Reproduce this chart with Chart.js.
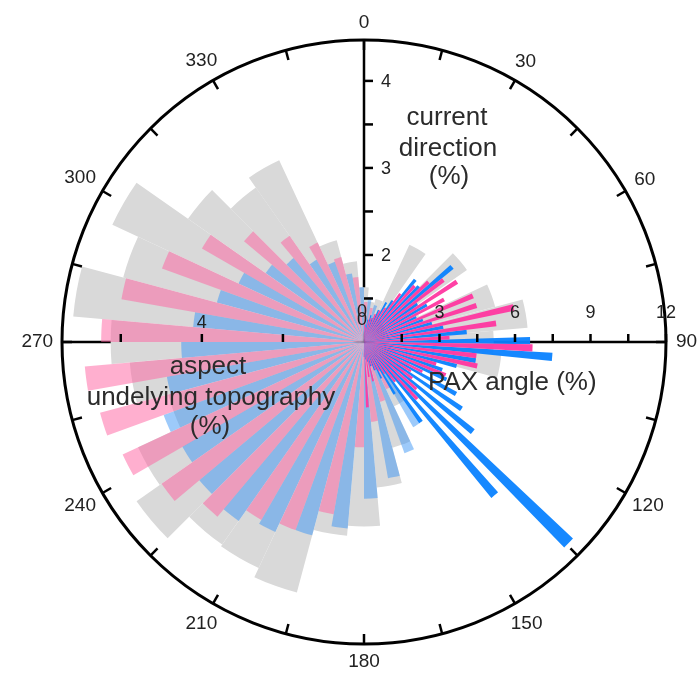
<!DOCTYPE html>
<html>
<head>
<meta charset="utf-8">
<script src="https://cdn.jsdelivr.net/npm/chart.js@4.4.1/dist/chart.umd.min.js"></script>
<style>
  html, body { margin: 0; padding: 0; background: #fff; }
  #wrap { width: 700px; height: 678px; }
</style>
</head>
<body>
<div id="wrap"><canvas id="roseChart"></canvas></div>
<script>
// compass labels round the rim
const angleLabels = ['0', '30', '60', '90', '120', '150', '180', '210', '240', '270', '300', '330'];

// aspect of underlying topography (%), 10 degree bins centred on 0, 10, ... 350
const aspectValues = [1.35, 1.0, 1.1, 2.65, 1.2, 3.1, 1.5, 3.35, 4.05, 3.2, 3.4, 1.85,
  1.25, 1.1, 1.25, 1.75, 2.7, 3.6, 4.55, 4.8, 6.4, 6.15, 6.1, 6.85,
  6.15, 5.0, 5.8, 6.25, 7.2, 6.15, 6.85, 5.3, 4.65, 4.95, 2.6, 2.0];

// current direction (%), pink bins start at 0, 10, 20 ... (5 deg wide)
const currentPinkValues = [1.46, 1.40, 1.34, 1.32, 1.29, 1.29, 1.25, 1.25, 1.25, 1.29, 1.32, 1.34,
  1.37, 1.41, 1.52, 1.60, 1.71, 1.92, 2.21, 3.01, 3.30, 3.36, 3.62, 3.84,
  4.06, 4.14, 4.22, 4.02, 3.83, 3.47, 3.15, 2.80, 2.49, 2.26, 2.01, 1.75];
// blue bins start at 5, 15, 25 ...
const currentBlueValues = [1.52, 1.44, 1.37, 1.32, 1.29, 1.28, 1.28, 1.28, 1.30, 1.34, 1.39, 1.46,
  1.57, 1.80, 2.13, 2.36, 2.59, 2.80, 3.15, 3.30, 3.41, 3.51, 3.47, 3.41,
  3.45, 3.30, 3.10, 2.97, 2.75, 2.59, 2.38, 2.26, 2.09, 1.98, 1.80, 1.63];

// PAX angle (%), 0-180 only, pink centred on 2, 7, 12 ... blue on 4.5, 9.5 ...
const paxPinkValues = [0.8, 0.6, 0.9, 1.0, 1.2, 1.4, 1.6, 2.4, 3.0, 3.5, 4.0, 4.4,
  3.6, 4.7, 4.7, 6.1, 5.3, 3.4, 6.7, 4.5, 4.6, 3.0, 3.5, 2.6,
  2.2, 2.4, 2.8, 3.1, 2.0, 1.5, 1.3, 1.2, 1.0, 1.6, 1.4, 2.6];
const paxBlueValues = [0.7, 0.9, 1.1, 1.0, 1.4, 1.8, 2.0, 3.2, 3.1, 4.6, 2.6, 2.9,
  2.3, 2.5, 2.8, 3.2, 4.1, 6.6, 7.5, 4.5, 3.8, 3.3, 3.6, 4.2,
  4.7, 5.6, 11.4, 8.0, 3.9, 2.4, 1.6, 1.2, 1.0, 0.8, 0.7, 0.6];

// axis ranges
const aspectMax = 7.45;
const currentMin = 1;
const currentMax = 4.47;
const paxMax = 12;
const aspectLabelled = [4];

const FONT = '"Liberation Sans", Arial, sans-serif';

// turn a list of bin values into polar area slices (bars + empty gaps)
function binSeries(values, firstStart, width, step, emptyValue) {
  const data = [];
  const angles = [];
  let pos = 0;
  values.forEach((v, i) => {
    const start = firstStart + i * step;
    if (start - pos > 0.001) {
      data.push(emptyValue);
      angles.push(start - pos);
    }
    data.push(v);
    angles.push(width);
    pos = start + width;
  });
  if (360 - pos > 0.001) {
    data.push(emptyValue);
    angles.push(360 - pos);
  }
  return { data, angles };
}

// aspect bins are centred on the tick, so split the 0 bin round north
const aspectSeries = {
  data: [aspectValues[0], ...aspectValues.slice(1), aspectValues[0]],
  angles: [5, ...aspectValues.slice(1).map(() => 10), 5]
};
const curPink = binSeries(currentPinkValues, 0, 5, 10, currentMin);
const curBlue = binSeries(currentBlueValues, 5, 5, 10, currentMin);
const paxPink = binSeries(paxPinkValues, 0.75, 2.5, 5, 0);
const paxBlue = binSeries(paxBlueValues, 3.25, 2.5, 5, 0);

function makeDataset(label, series, axisId, color, order) {
  return {
    label: label,
    data: series.data,
    rAxisID: axisId,
    backgroundColor: color,
    borderWidth: 0,
    order: order,
    angle: ctx => series.angles[ctx.dataIndex]
  };
}

function radial(min, max, step, extra) {
  return Object.assign({
    type: 'radialLinear',
    axis: 'r',
    min: min,
    max: max,
    beginAtZero: false,
    startAngle: 0,
    ticks: { display: false, stepSize: step },
    grid: { display: false },
    angleLines: { display: false },
    pointLabels: { display: false }
  }, extra);
}

// rim, ticks, axis numbers and captions
const roseAxes = {
  id: 'roseAxes',
  afterDraw(chart) {
    const ctx = chart.ctx;
    const r = chart.scales.r;
    const cur = chart.scales.rCur;
    const pax = chart.scales.rPax;
    const cx = r.xCenter;
    const cy = r.yCenter;
    const R = r.drawingArea;

    ctx.save();
    ctx.strokeStyle = '#000';
    ctx.lineWidth = 3;
    ctx.beginPath();
    ctx.arc(cx, cy, R, 0, Math.PI * 2);
    ctx.stroke();

    ctx.lineWidth = 2.5;
    for (let a = 0; a < 360; a += 15) {
      const t = (a - 90) * Math.PI / 180;
      ctx.beginPath();
      ctx.moveTo(cx + Math.cos(t) * R, cy + Math.sin(t) * R);
      ctx.lineTo(cx + Math.cos(t) * (R - 10), cy + Math.sin(t) * (R - 10));
      ctx.stroke();
    }

    ctx.fillStyle = '#222';
    ctx.font = '19px ' + FONT;
    ctx.textAlign = 'center';
    ctx.textBaseline = 'middle';
    angleLabels.forEach((lab, i) => {
      const t = i * 30 * Math.PI / 180;
      const hw = ctx.measureText(lab).width / 2;
      const d = R + 12 + 0.8 * (hw * Math.abs(Math.sin(t)) + 7 * Math.abs(Math.cos(t)));
      const p = r.getPointPosition(i, d);
      ctx.fillText(lab, p.x, p.y);
    });

    // current direction axis (up)
    ctx.font = '18px ' + FONT;
    ctx.textAlign = 'left';
    cur.ticks.forEach(tk => {
      const v = tk.value;
      if (v <= currentMin || Math.abs(v * 2 - Math.round(v * 2)) > 1e-6) return;
      const y = cy - cur.getDistanceFromCenterForValue(v);
      ctx.beginPath();
      ctx.moveTo(cx, y);
      ctx.lineTo(cx + 9, y);
      ctx.stroke();
      if (Math.abs(v - Math.round(v)) < 1e-6) ctx.fillText(String(v), cx + 17, y + 1);
    });

    // PAX axis (right)
    ctx.textAlign = 'center';
    pax.ticks.forEach(tk => {
      const v = tk.value;
      if (v <= 0 || Math.abs(v / 1.5 - Math.round(v / 1.5)) > 1e-6) return;
      const x = cx + pax.getDistanceFromCenterForValue(v);
      ctx.beginPath();
      ctx.moveTo(x, cy);
      ctx.lineTo(x, cy - 8);
      ctx.stroke();
      if (Math.abs(v / 3 - Math.round(v / 3)) < 1e-6) ctx.fillText(String(v), x, cy - 29);
    });

    // aspect axis (left)
    r.ticks.forEach(tk => {
      const v = tk.value;
      if (v <= 0 || Math.abs(v / 2 - Math.round(v / 2)) > 1e-6) return;
      const x = cx - r.getDistanceFromCenterForValue(v);
      ctx.beginPath();
      ctx.moveTo(x, cy);
      ctx.lineTo(x, cy - 8);
      ctx.stroke();
      if (aspectLabelled.includes(v)) ctx.fillText(String(v), x, cy - 19);
    });

    ctx.fillText('0', cx - 2, cy - 30);
    ctx.fillText('0', cx - 2, cy - 22);

    // captions
    ctx.fillStyle = '#2b2b2b';
    ctx.font = '26px ' + FONT;
    ctx.textBaseline = 'alphabetic';
    ctx.fillText('current', 447, 125);
    ctx.fillText('direction', 448, 156);
    ctx.fillText('(%)', 449, 184);
    ctx.fillText('aspect', 208, 374);
    ctx.fillText('undelying topography', 211, 405);
    ctx.fillText('(%)', 210, 434);
    ctx.textAlign = 'left';
    ctx.fillText('PAX angle (%)', 428, 390);
    ctx.restore();
  }
};

new Chart(document.getElementById('roseChart'), {
  type: 'polarArea',
  data: {
    labels: angleLabels,
    datasets: [
      makeDataset('PAX angle A', paxPink, 'rPax', 'rgba(255, 55, 160, 0.95)', 1),
      makeDataset('PAX angle B', paxBlue, 'rPax', 'rgba(10, 130, 255, 0.95)', 2),
      makeDataset('current direction A', curPink, 'rCur', 'rgba(255, 95, 160, 0.5)', 3),
      makeDataset('current direction B', curBlue, 'rCur', 'rgba(60, 150, 245, 0.5)', 4),
      makeDataset('aspect', aspectSeries, 'r', '#d9d9d9', 5)
    ]
  },
  options: {
    responsive: true,
    maintainAspectRatio: false,
    animation: false,
    events: [],
    layout: { padding: { left: 62, top: 40, right: 34, bottom: 34 } },
    plugins: { legend: { display: false }, tooltip: { enabled: false } },
    scales: {
      r: radial(0, aspectMax, 2, {
        z: 1,
        angleLines: {
          display: true,
          lineWidth: 2.5,
          color: ctx => [0, 3, 9].includes(ctx.index) ? '#000' : 'rgba(0,0,0,0)'
        }
      }),
      rCur: radial(currentMin, currentMax, 0.5),
      rPax: radial(0, paxMax, 1.5)
    }
  },
  plugins: [roseAxes]
});
</script>
</body>
</html>
